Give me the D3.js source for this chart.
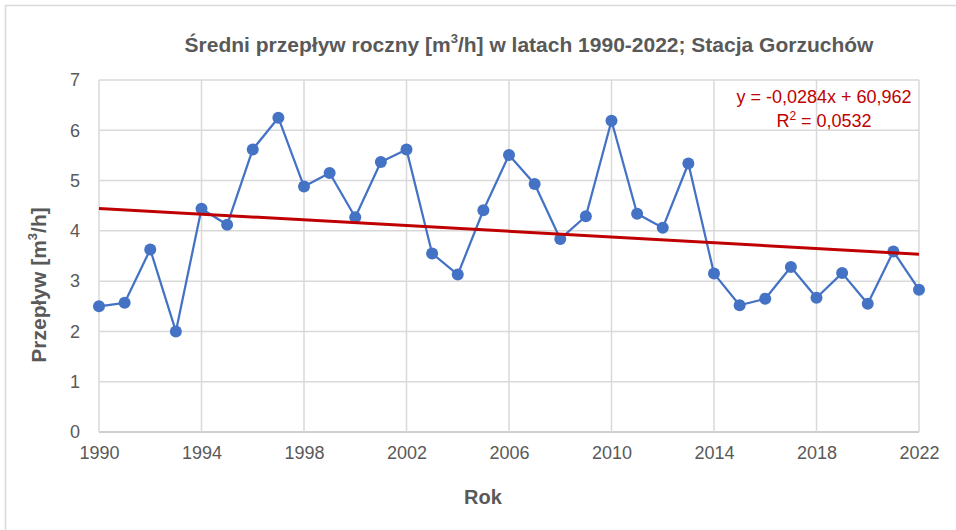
<!DOCTYPE html>
<html>
<head>
<meta charset="utf-8">
<script src="https://cdn.jsdelivr.net/npm/d3@7"></script>
<style>
  body { margin: 0; background: #fff; }
  text { font-family: "Liberation Sans", Arial, sans-serif; fill: #595959; }
</style>
</head>
<body>
<script>
"use strict";

// dane
var years = [1990, 1991, 1992, 1993, 1994, 1995, 1996, 1997, 1998, 1999,
             2000, 2001, 2002, 2003, 2004, 2005, 2006, 2007, 2008, 2009,
             2010, 2011, 2012, 2013, 2014, 2015, 2016, 2017, 2018, 2019,
             2020, 2021, 2022];
var flows = [2.50, 2.57, 3.63, 2.00, 4.44, 4.12, 5.62, 6.25, 4.88, 5.15,
             4.27, 5.37, 5.62, 3.55, 3.13, 4.41, 5.51, 4.93, 3.84, 4.29,
             6.19, 4.34, 4.06, 5.34, 3.15, 2.52, 2.65, 3.28, 2.67, 3.16,
             2.55, 3.59, 2.83];
var xTicks = [1990, 1994, 1998, 2002, 2006, 2010, 2014, 2018, 2022];
var yTicks = [0, 1, 2, 3, 4, 5, 6, 7];
var trendSlope = -0.0284;
var trendIntercept = 60.962;
var trendLabel = "y = -0,0284x + 60,962";
var r2Label = "0,0532";

var width = 956;
var height = 530;

var margin = { top: 80, left: 99, right: 37, bottom: 98 };

var svg = d3.select("body").append("svg")
    .attr("width", width)
    .attr("height", height);

// ramka wykresu
svg.append("rect")
    .attr("x", 5.5).attr("y", 5.5)
    .attr("width", width + 20).attr("height", height + 20)
    .attr("fill", "none")
    .attr("stroke", "#d9d9d9")
    .attr("stroke-width", 1.5);

var xScale = d3.scaleLinear()
    .domain([1990, 2022])
    .range([margin.left, width - margin.right]);

var yScale = d3.scaleLinear()
    .domain([0, 7])
    .range([height - margin.bottom, margin.top]);

// siatka
var grid = svg.append("g").attr("class", "grid");
grid.selectAll(".hgrid")
    .data(yTicks)
    .enter().append("line")
    .attr("x1", xScale(1990)).attr("x2", xScale(2022))
    .attr("y1", function(d) { return yScale(d); })
    .attr("y2", function(d) { return yScale(d); })
    .attr("stroke", function(d) { return d === 0 ? "#bfbfbf" : "#d9d9d9"; })
    .attr("stroke-width", 1.5);

grid.selectAll(".vgrid")
    .data(xTicks)
    .enter().append("line")
    .attr("x1", function(d) { return xScale(d); })
    .attr("x2", function(d) { return xScale(d); })
    .attr("y1", yScale(0)).attr("y2", yScale(7))
    .attr("stroke", "#d9d9d9")
    .attr("stroke-width", 1.5);

// osie (tylko etykiety)
var xAxis = svg.append("g")
    .attr("transform", "translate(0," + yScale(0) + ")")
    .call(d3.axisBottom(xScale).tickValues(xTicks).tickFormat(d3.format("d")).tickSize(0).tickPadding(14));
xAxis.select(".domain").remove();
xAxis.selectAll("text").attr("font-size", 18).attr("fill", "#595959")
    .style("font-family", "'Liberation Sans', Arial, sans-serif");

var yAxis = svg.append("g")
    .attr("transform", "translate(" + xScale(1990) + ",0)")
    .call(d3.axisLeft(yScale).tickValues(yTicks).tickFormat(d3.format("d")).tickSize(0).tickPadding(19));
yAxis.select(".domain").remove();
yAxis.selectAll("text").attr("font-size", 18).attr("fill", "#595959")
    .style("font-family", "'Liberation Sans', Arial, sans-serif");

// seria
var line = d3.line()
    .x(function(d, i) { return xScale(years[i]); })
    .y(function(d) { return yScale(d); });

svg.append("path")
    .datum(flows)
    .attr("d", line)
    .attr("fill", "none")
    .attr("stroke", "#4472c4")
    .attr("stroke-width", 2.25)
    .attr("stroke-linejoin", "round");

svg.append("g").selectAll("circle")
    .data(flows)
    .enter().append("circle")
    .attr("cx", function(d, i) { return xScale(years[i]); })
    .attr("cy", function(d) { return yScale(d); })
    .attr("r", 6)
    .attr("fill", "#4472c4");

// linia trendu
svg.append("line")
    .attr("x1", xScale(1990))
    .attr("y1", yScale(trendSlope * 1990 + trendIntercept))
    .attr("x2", xScale(2022))
    .attr("y2", yScale(trendSlope * 2022 + trendIntercept))
    .attr("stroke", "#c00000")
    .attr("stroke-width", 3);

var trendText = svg.append("g").attr("transform", "translate(824,0)");
trendText.append("text")
    .attr("y", 103)
    .attr("text-anchor", "middle")
    .attr("font-size", 18)
    .style("fill", "#c00000")
    .text(trendLabel);
var r2 = trendText.append("text")
    .attr("y", 127)
    .attr("text-anchor", "middle")
    .attr("font-size", 18)
    .style("fill", "#c00000");
r2.append("tspan").text("R");
r2.append("tspan").attr("font-size", 12).attr("dy", -7).text("2");
r2.append("tspan").attr("dy", 7).text(" = " + r2Label);

// tytuły
var title = svg.append("text")
    .attr("x", 529).attr("y", 52)
    .attr("text-anchor", "middle")
    .attr("font-size", 21)
    .attr("font-weight", "bold");
title.append("tspan").text("Średni przepływ roczny [m");
title.append("tspan").attr("font-size", 13).attr("dy", -9).text("3");
title.append("tspan").attr("dy", 9).text("/h] w latach 1990-2022; Stacja Gorzuchów");

svg.append("text")
    .attr("x", 483).attr("y", 504)
    .attr("text-anchor", "middle")
    .attr("font-size", 20)
    .attr("font-weight", "bold")
    .text("Rok");

var yTitle = svg.append("text")
    .attr("transform", "translate(46,285) rotate(-90)")
    .attr("text-anchor", "middle")
    .attr("font-size", 21)
    .attr("font-weight", "bold");
yTitle.append("tspan").text("Przepływ [m");
yTitle.append("tspan").attr("font-size", 13).attr("dy", -9).text("3");
yTitle.append("tspan").attr("dy", 9).text("/h]");
</script>
</body>
</html>
